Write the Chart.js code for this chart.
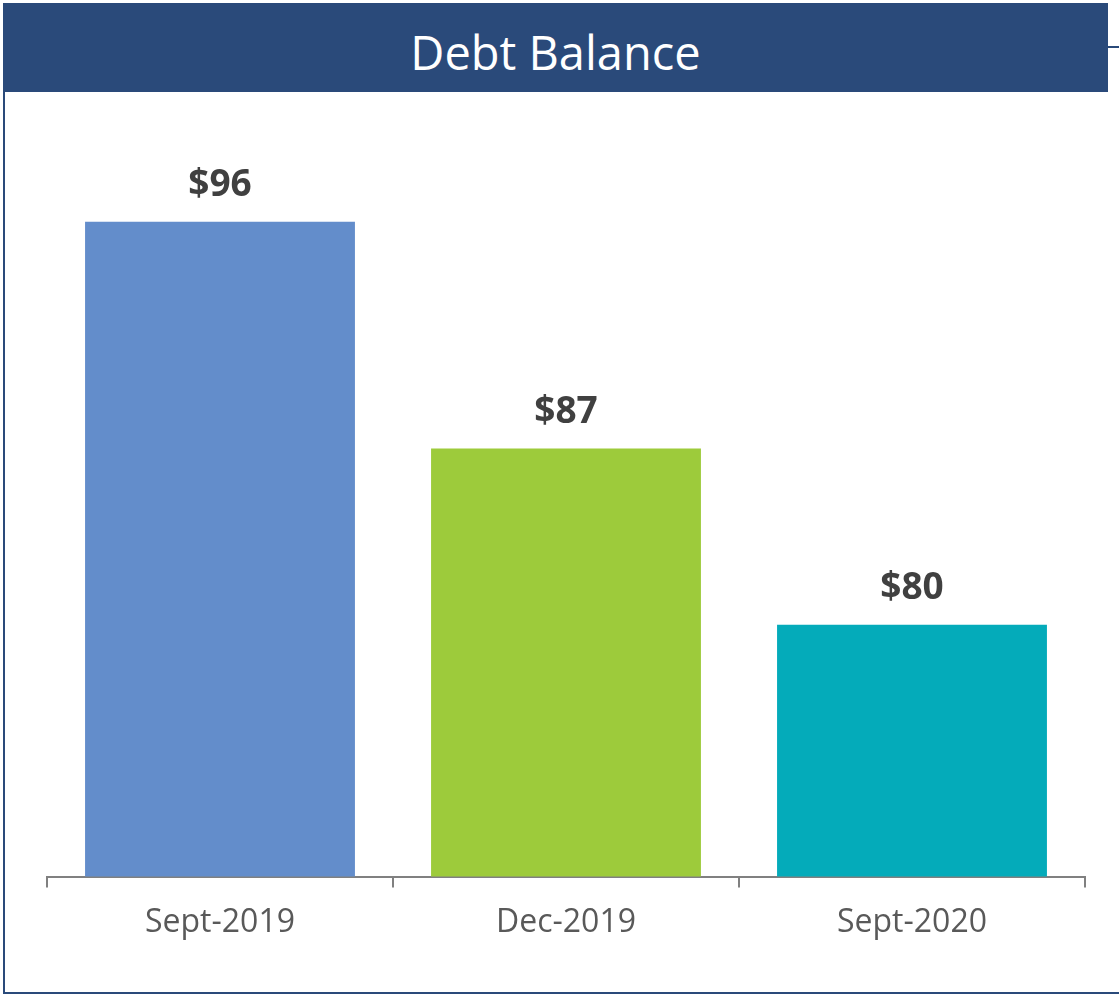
<!DOCTYPE html>
<html>
<head>
<meta charset="utf-8">
<script src="https://cdn.jsdelivr.net/npm/chart.js@4"></script>
<style>
  body { margin: 0; background: #fff; }
  .frame { position: relative; width: 1119px; height: 994px; overflow: hidden; font-family: "Open Sans", sans-serif; }
  .header { position: absolute; left: 3px; top: 3px; width: 1105px; height: 89px; background: #2a4a7a; color: #fff;
            font-size: 47px; line-height: 98px; text-align: center; }
  .stub { position: absolute; left: 1108px; top: 46px; width: 11px; height: 2px; background: #2a4a7a; }
  .leftline { position: absolute; left: 3px; top: 92px; width: 2px; height: 902px; background: #2a4a7a; }
  .bottomline { position: absolute; left: 3px; top: 992px; width: 1116px; height: 2px; background: #2a4a7a; }
  #chart { position: absolute; left: 0; top: 0; }
</style>
</head>
<body>
<div class="frame">
  <div class="header">Debt Balance</div>
  <div class="stub"></div>
  <div class="leftline"></div>
  <div class="bottomline"></div>
  <canvas id="chart" width="1119" height="994"></canvas>
</div>
<script>
const categories = ['Sept-2019', 'Dec-2019', 'Sept-2020'];
const balances = [96, 87, 80];
const barColors = ['#638dcb', '#9dcb3b', '#04abba'];

// draws "$96" etc. above each bar
const valueLabels = {
  id: 'valueLabels',
  afterDatasetsDraw(chart) {
    const ctx = chart.ctx;
    const meta = chart.getDatasetMeta(0);
    ctx.save();
    ctx.font = 'bold 37px "Open Sans"';
    ctx.fillStyle = '#404040';
    ctx.textAlign = 'center';
    ctx.textBaseline = 'middle';
    meta.data.forEach((bar, i) => {
      ctx.fillText('$' + balances[i], bar.x, bar.y - 36);
    });
    ctx.restore();
  }
};

new Chart(document.getElementById('chart').getContext('2d'), {
  type: 'bar',
  data: {
    labels: categories,
    datasets: [{
      data: balances,
      backgroundColor: barColors,
      borderWidth: 0,
      barPercentage: 0.78,
      categoryPercentage: 1
    }]
  },
  options: {
    responsive: false,
    animation: false,
    layout: { padding: { left: 47, right: 34, top: 121, bottom: 36 } },
    plugins: { legend: { display: false }, tooltip: { enabled: false } },
    scales: {
      x: {
        grid: { drawOnChartArea: false, color: '#808080', lineWidth: 2, tickLength: 11, offset: true },
        border: { color: '#808080', width: 2 },
        ticks: { color: '#595959', font: { family: 'Open Sans', size: 32 }, padding: 16 }
      },
      y: { display: false, min: 70, max: 100 }
    }
  },
  plugins: [valueLabels]
});
</script>
</body>
</html>
